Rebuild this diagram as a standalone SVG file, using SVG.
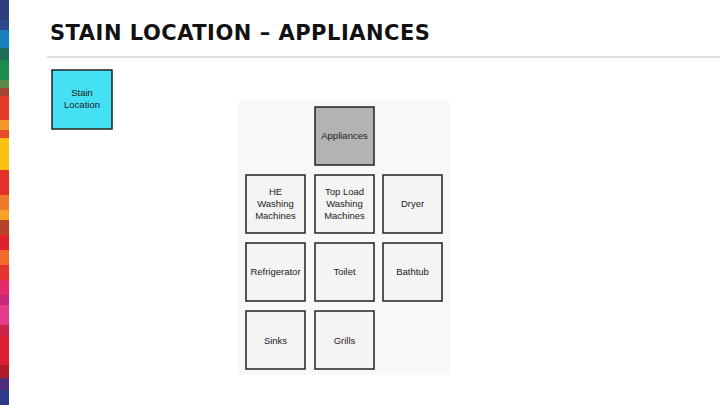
<svg xmlns="http://www.w3.org/2000/svg" width="720" height="405" viewBox="0 0 720 405">
<style>
.b{stroke:#222;stroke-width:1.5}
.n{fill:#f4f4f4}
.t{font-family:"Liberation Sans",Arial,sans-serif;font-size:9.5px;fill:#222;text-anchor:middle}
</style>
<rect width="720" height="405" fill="#fff"/>
<g id="stripe">
<rect x="0" y="0" width="9" height="20" fill="#2c3e7a"/>
<rect x="0" y="20" width="9" height="10" fill="#2d4a8c"/>
<rect x="0" y="30" width="9" height="18" fill="#1a7fc1"/>
<rect x="0" y="48" width="9" height="12" fill="#1d6f5a"/>
<rect x="0" y="60" width="9" height="20" fill="#1b8c4e"/>
<rect x="0" y="80" width="9" height="8" fill="#5a8a4a"/>
<rect x="0" y="88" width="9" height="8" fill="#a4452f"/>
<rect x="0" y="96" width="9" height="24" fill="#e33a2a"/>
<rect x="0" y="120" width="9" height="10" fill="#f39a26"/>
<rect x="0" y="130" width="9" height="8" fill="#e84b2a"/>
<rect x="0" y="138" width="9" height="32" fill="#fdc10f"/>
<rect x="0" y="170" width="9" height="25" fill="#e2322a"/>
<rect x="0" y="195" width="9" height="15" fill="#ef7a2a"/>
<rect x="0" y="210" width="9" height="10" fill="#f7a127"/>
<rect x="0" y="220" width="9" height="15" fill="#b5432a"/>
<rect x="0" y="235" width="9" height="15" fill="#e0202f"/>
<rect x="0" y="250" width="9" height="15" fill="#f26b2a"/>
<rect x="0" y="265" width="9" height="15" fill="#e8342e"/>
<rect x="0" y="280" width="9" height="15" fill="#e52a6a"/>
<rect x="0" y="295" width="9" height="10" fill="#c8287a"/>
<rect x="0" y="305" width="9" height="20" fill="#e63a8a"/>
<rect x="0" y="325" width="9" height="10" fill="#c9254a"/>
<rect x="0" y="335" width="9" height="30" fill="#dc1f33"/>
<rect x="0" y="365" width="9" height="13" fill="#b01c2a"/>
<rect x="0" y="378" width="9" height="12" fill="#4d2c7a"/>
<rect x="0" y="390" width="9" height="15" fill="#2c3a8a"/>
</g>
<text x="50" y="40" font-family="'DejaVu Sans',sans-serif" font-weight="bold" font-size="21" fill="#111" letter-spacing="0.5">STAIN LOCATION – APPLIANCES</text>
<line x1="47" y1="57" x2="720" y2="57" stroke="#bbb" stroke-width="1"/>
<g id="stain"><rect x="52" y="70" width="60" height="59" fill="#44e0f4" class="b"/>
<text class="t" x="82" y="96">Stain</text><text class="t" x="82" y="108">Location</text></g>
<rect x="238" y="101" width="212" height="274" fill="#f8f8f8"/>
<g id="appliances"><rect x="315" y="107" width="59" height="58" fill="#b3b3b3" class="b"/><text class="t" x="344.5" y="139">Appliances</text></g>
<g id="he"><rect x="246" y="175" width="59" height="58" class="n b"/><text class="t" x="275.5" y="195">HE</text><text class="t" x="275.5" y="207">Washing</text><text class="t" x="275.5" y="219">Machines</text></g>
<g id="toploadwm"><rect x="315" y="175" width="59" height="58" class="n b"/><text class="t" x="344.5" y="195">Top Load</text><text class="t" x="344.5" y="207">Washing</text><text class="t" x="344.5" y="219">Machines</text></g>
<g id="dryer"><rect x="383" y="175" width="59" height="58" class="n b"/><text class="t" x="412.5" y="207">Dryer</text></g>
<g id="refrigerator"><rect x="246" y="243" width="59" height="58" class="n b"/><text class="t" x="275.5" y="275">Refrigerator</text></g>
<g id="toilet"><rect x="315" y="243" width="59" height="58" class="n b"/><text class="t" x="344.5" y="275">Toilet</text></g>
<g id="bathtub"><rect x="383" y="243" width="59" height="58" class="n b"/><text class="t" x="412.5" y="275">Bathtub</text></g>
<g id="sinks"><rect x="246" y="311" width="59" height="58" class="n b"/><text class="t" x="275.5" y="344">Sinks</text></g>
<g id="grills"><rect x="315" y="311" width="59" height="58" class="n b"/><text class="t" x="344.5" y="344">Grills</text></g>
<g id="connectors"/>
</svg>
